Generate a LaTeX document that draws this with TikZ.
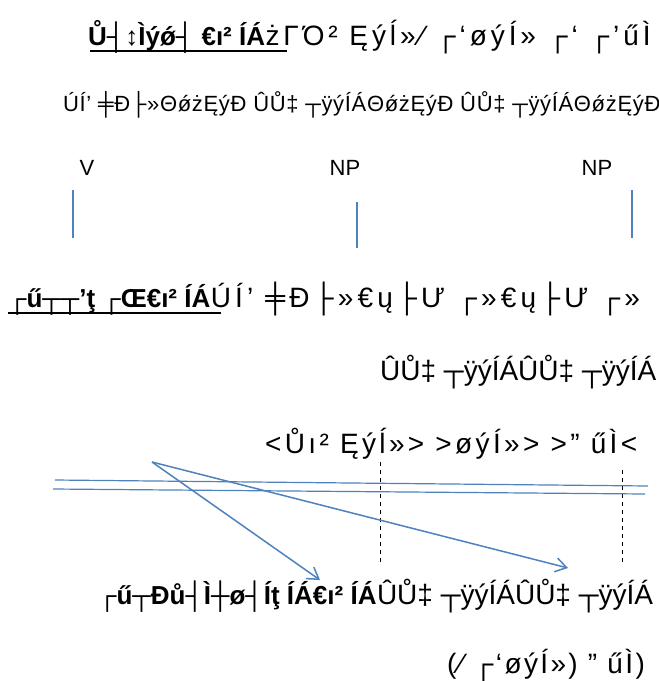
\documentclass[tikz,border=0pt]{standalone}
\usepackage{fontspec}
\setmainfont{Liberation Sans}
\usetikzlibrary{arrows.meta}
\definecolor{linkblue}{HTML}{4F81BD}
\begin{document}
\begin{tikzpicture}[x=1pt,y=-1pt,
  txt/.style={anchor=base west,inner sep=0pt,font=\fontsize{28}{32}\selectfont},
  boldtxt/.style={anchor=base west,inner sep=0pt,font=\fontsize{26}{30}\selectfont\bfseries},
  small/.style={anchor=base west,inner sep=0pt,font=\fontsize{22}{26}\selectfont},
  cat/.style={anchor=base,inner sep=0pt,font=\fontsize{22}{26}\selectfont},
  bluebar/.style={draw=linkblue,line width=1.5pt},
  blueline/.style={draw=linkblue,line width=1.2pt},
  bluearrow/.style={draw=linkblue,line width=1.5pt,-{Straight Barb[length=11pt,width=14pt]}},
  dashline/.style={draw=black,dashed,line width=1pt,dash pattern=on 4pt off 4pt},
  uline/.style={draw=black,line width=1.5pt}]
\useasboundingbox (0,0) rectangle (659,681);
% line 1
\node[boldtxt] (l1a) at (88,45) {Ů┤↕Ìýǿ┤ €ı² ÍÁ};
\node[txt] (l1b) at (l1a.base east) {\addfontfeature{LetterSpace=14}żΓΌ² Ęýĺ»⁄  ┌‘øýÍ» ┌‘ ┌’űÌ};
\coordinate (u1s) at (90,51); \coordinate (u1e) at (287,51);
\draw[uline] (u1s) -- (u1e);
% line 2
\node[small] (l2) at (63,111) {\addfontfeature{LetterSpace=3}ÚÍ’ ╪Ð├»ΘǿżĘýĐ ÛŮ‡ ┬ÿýÍÁΘǿżĘýĐ ÛŮ‡ ┬ÿýÍÁΘǿżĘýĐ};
% categories
\node[cat] (v) at (87,175) {V};
\node[cat] (np1) at (345,175) {NP};
\node[cat] (np2) at (597,175) {NP};
\coordinate (b1t) at (73,190); \coordinate (b1b) at (73,238);
\coordinate (b2t) at (357,202); \coordinate (b2b) at (357,248);
\coordinate (b3t) at (632,190); \coordinate (b3b) at (632,238);
\draw[bluebar] (b1t) -- (b1b);
\draw[bluebar] (b2t) -- (b2b);
\draw[bluebar] (b3t) -- (b3b);
% line 4
\node[boldtxt] (l4a) at (8,307) {┌ű┬┬’ţ ┌Œ€ı² ÍÁ};
\node[txt] (l4b) at (l4a.base east) {\addfontfeature{LetterSpace=15}ÚÍ’ ╪Ð├»€ų├Ư ┌»€ų├Ư ┌»};
\coordinate (u4s) at (8,313); \coordinate (u4e) at (221,313);
\draw[uline] (u4s) -- (u4e);
% line 5
\node[txt] (l5) at (380,380) {ÛŮ‡ ┬ÿýÍÁÛŮ‡ ┬ÿýÍÁ};
% line 6
\node[txt] (l6) at (265,453) {\addfontfeature{LetterSpace=12}<Ůı² Ęýĺ»> >øýÍ»> >” űÌ<};
\coordinate (d1t) at (380,462); \coordinate (d1b) at (380,565);
\coordinate (d2t) at (622,470); \coordinate (d2b) at (622,565);
\draw[dashline] (d1t) -- (d1b);
\draw[dashline] (d2t) -- (d2b);
% blue lines
\coordinate (h1s) at (55,480); \coordinate (h1e) at (648,486);
\coordinate (h2s) at (53,489); \coordinate (h2e) at (645,494);
\draw[blueline] (h1s) -- (h1e);
\draw[blueline] (h2s) -- (h2e);
\coordinate (src) at (152,462);
\coordinate (t1) at (320,580);
\coordinate (t2) at (568,568);
\draw[bluearrow] (src) -- (t1);
\draw[bluearrow] (src) -- (t2);
% line 7
\node[boldtxt] (l7a) at (98,604) {┌ű┬Ðů┤Ì┼ø┤Íţ ÍÁ€ı² ÍÁ};
\node[txt] (l7b) at (l7a.base east) {ÛŮ‡ ┬ÿýÍÁÛŮ‡ ┬ÿýÍÁ};
% line 8
\node[txt] (l8) at (447,673) {\addfontfeature{LetterSpace=8.5}(⁄ ┌‘øýÍ») ” űÌ)};
\end{tikzpicture}
\end{document}
